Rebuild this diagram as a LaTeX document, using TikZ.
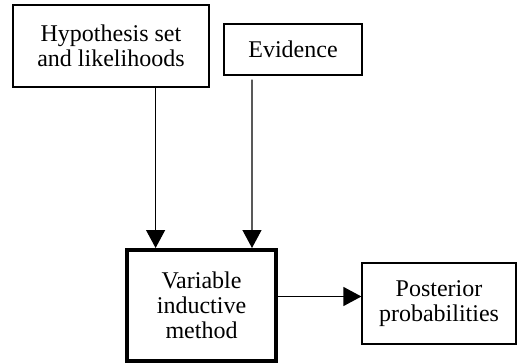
\documentclass[tikz,border=0pt]{standalone}
\usepackage{fontspec}
\setmainfont{Liberation Serif}
\newfontfamily\boxfont{Liberation Serif}
\usetikzlibrary{positioning,calc,arrows.meta}

\begin{document}
\begin{tikzpicture}[x=1pt,y=1pt]
    \tikzstyle{every node}=[draw,rectangle,align=center,inner sep=0,line width=1.2,font=\boxfont\fontsize{24}{25}\selectfont]
    \tikzstyle{heavy}=[line width=4]
    \tikzstyle{flow}=[-{Triangle[length=18pt,width=19pt]},line width=1.2]
    \useasboundingbox (0,0) rectangle (517,-364);
    {
        \node[minimum width=196,minimum height=82] (hyp) at (111,-46) {Hypothesis set\\and likelihoods};
        \node[minimum width=138,minimum height=51] (evid) at (293,-49.5) {Evidence};
        \node[heavy,minimum width=149,minimum height=111] (vim) at (201.5,-305.5) {Variable\\inductive\\method};
        \node[minimum width=154,minimum height=81] (post) at (439,-303.5) {Posterior\\probabilities};

        \draw[flow] (hyp.south -| {$(vim.north west)!0.2!(vim.north east)$}) -- ($(vim.north west)!0.2!(vim.north east)$);
        \draw[flow] ($(evid.south)+(-41,-4)$) -- ($(vim.north west)!0.83!(vim.north east)$);
        \draw[flow] ($(vim.east)+(0,9)$) -- ($(post.west)+(0,7)$);
    }
\end{tikzpicture}
\end{document}
